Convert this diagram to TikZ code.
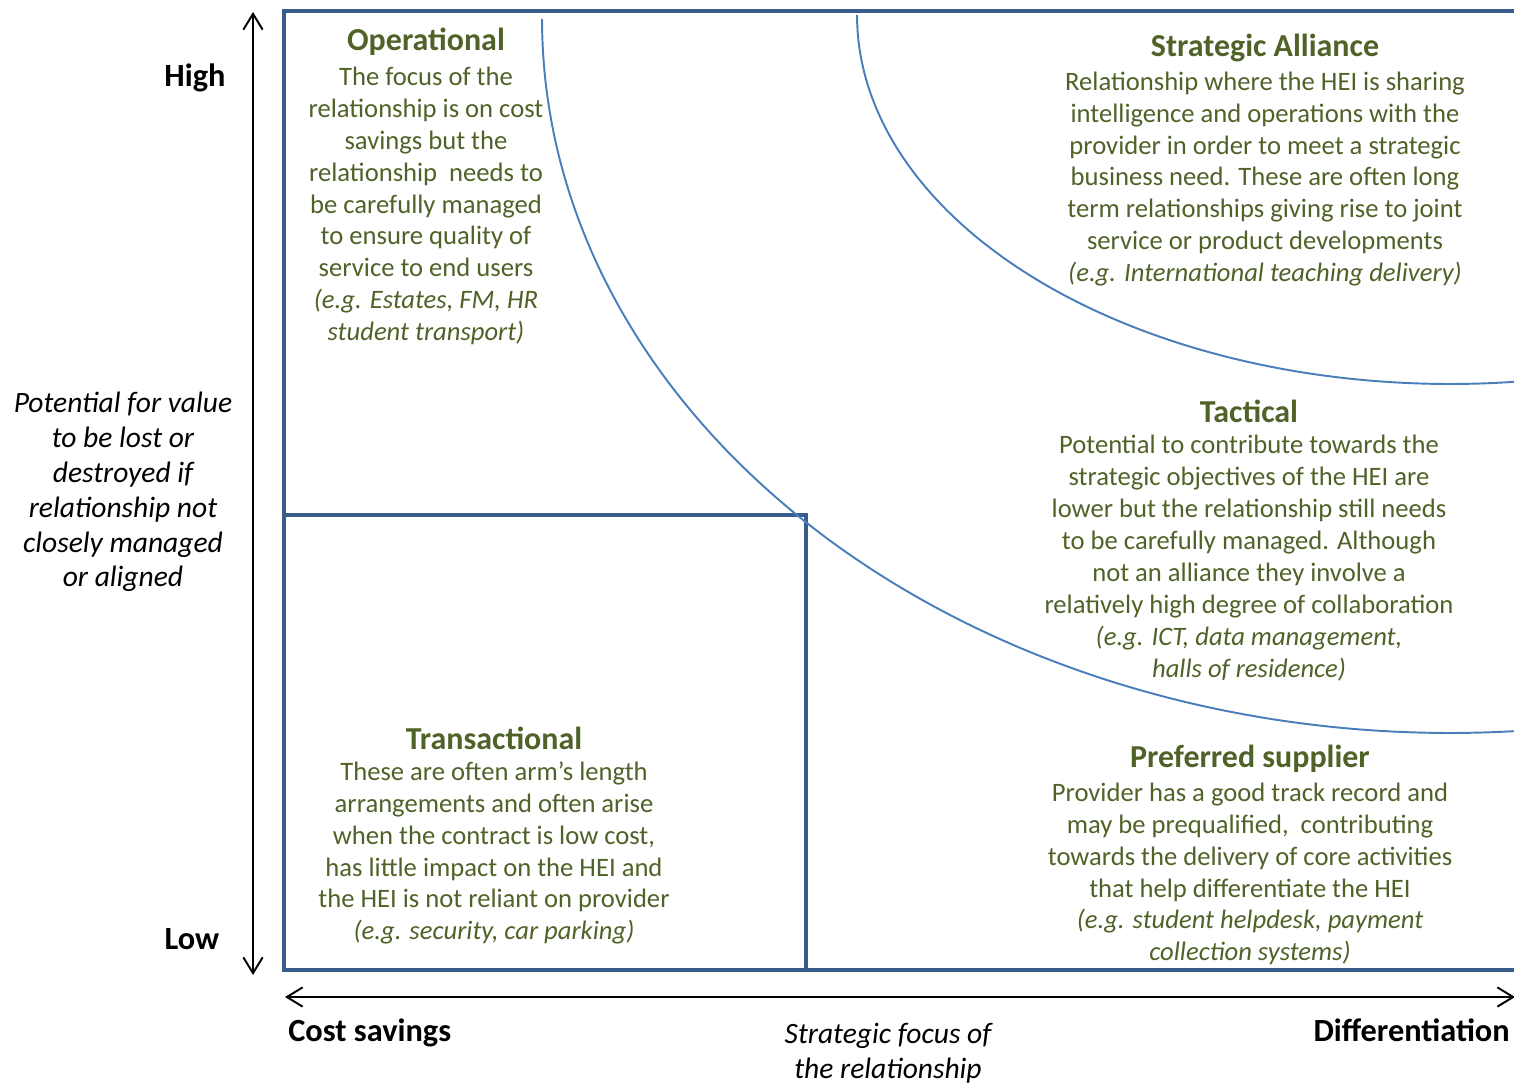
\documentclass[tikz,border=0pt]{standalone}
\usepackage{fontspec}
\setmainfont{Carlito}
\usetikzlibrary{arrows.meta}
\definecolor{quadblue}{HTML}{385D8A}
\definecolor{arcblue}{HTML}{4A7EBB}
\definecolor{txtgreen}{HTML}{4F6228}
\tikzset{
  quad/.style={draw=quadblue, line width=2.5pt},
  bound/.style={draw=arcblue, line width=1.1pt},
  axis/.style={{Straight Barb[length=9pt,width=11pt]}-{Straight Barb[length=9pt,width=11pt]}, line width=1.1pt},
  qtitle/.style={text=txtgreen, inner sep=0pt, font=\fontsize{18.2}{21}\selectfont\bfseries},
  qbody/.style={text=txtgreen, inner sep=0pt, align=center, font=\fontsize{15.15}{18.15}\selectfont},
  axlab/.style={inner sep=0pt, font=\fontsize{18.4}{22}\selectfont\bfseries},
  axnote/.style={inner sep=0pt, align=center, font=\fontsize{16.8}{19.85}\selectfont\itshape},
}

\begin{document}
\begin{tikzpicture}[x=0.02cm, y=-0.02cm]
  \useasboundingbox (0,0) rectangle (1514,1084);
  \clip (0,0) rectangle (1514,1084);
  % quadrant frame, open to the right
  \draw[quad] (1530,11) -- (284,11) -- (284,970) -- (1530,970);
  \draw[quad] (284,515) -- (806,515) -- (806,970);
  % curved boundaries between the zones
  \draw[bound] plot[domain=0:110, samples=90, smooth] ({1450-908*cos(\x)}, {19+714*sin(\x)});
  \draw[bound] plot[domain=0:110, samples=90, smooth] ({1450-593*cos(\x)}, {15+369*sin(\x)});
  % axes
  \coordinate (vtop) at (253,12);
  \coordinate (vbot) at (253,975);
  \coordinate (hleft) at (285,997);
  \coordinate (hright) at (1515,997);
  \draw[axis] (vbot) -- (vtop);
  \draw[axis] (hleft) -- (hright);
  \node[axlab] (high) at (195,78) {High};
  \node[axlab] (low) at (192,939) {Low};
  \node[axlab, anchor=west] (cost) at (288,1033) {Cost savings};
  \node[axlab, anchor=east] (diff) at (1510,1030) {Differentiation};
  \node[axnote] (vnote) at (123,492) {Potential for value\\to be lost or\\destroyed if\\relationship not\\closely managed\\or aligned};
  \node[axnote] (hnote) at (888,1053) {Strategic focus of\\the relationship};
  % zone texts
  \node[qtitle] (op) at (426,42) {Operational};
  \node[qbody] (op-txt) at (426,206) {The focus of the\\relationship is on cost\\savings but the\\relationship\ \ needs to\\be carefully managed\\to ensure quality of\\service to end users\\\textit{(e.g. Estates, FM, HR}\\\textit{student transport)}};
  \node[qtitle] (sa) at (1265,48) {Strategic Alliance};
  \node[qbody] (sa-txt) at (1265,179) {Relationship where the HEI is sharing\\intelligence and operations with the\\provider in order to meet a strategic\\business need. These are often long\\term relationships giving rise to joint\\service or product developments\\\textit{(e.g. International teaching delivery)}};
  \node[qtitle] (tac) at (1249,411) {Tactical};
  \node[qbody] (tac-txt) at (1249,558) {Potential to contribute towards the\\strategic objectives of the HEI are\\lower but the relationship still needs\\to be carefully managed. Although\\not an alliance they involve a\\relatively high degree of collaboration\\\textit{(e.g. ICT, data management,}\\\textit{halls of residence)}};
  \node[qtitle] (tr) at (494,738) {Transactional};
  \node[qbody] (tr-txt) at (494,853) {These are often arm’s length\\arrangements and often arise\\when the contract is low cost,\\has little impact on the HEI and\\the HEI is not reliant on provider\\\textit{(e.g. security, car parking)}};
  \node[qtitle] (ps) at (1250,759) {Preferred supplier};
  \node[qbody] (ps-txt) at (1250,874) {Provider has a good track record and\\may be prequalified,\ \ contributing\\towards the delivery of core activities\\that help differentiate the HEI\\\textit{(e.g. student helpdesk, payment}\\\textit{collection systems)}};
\end{tikzpicture}
\end{document}
